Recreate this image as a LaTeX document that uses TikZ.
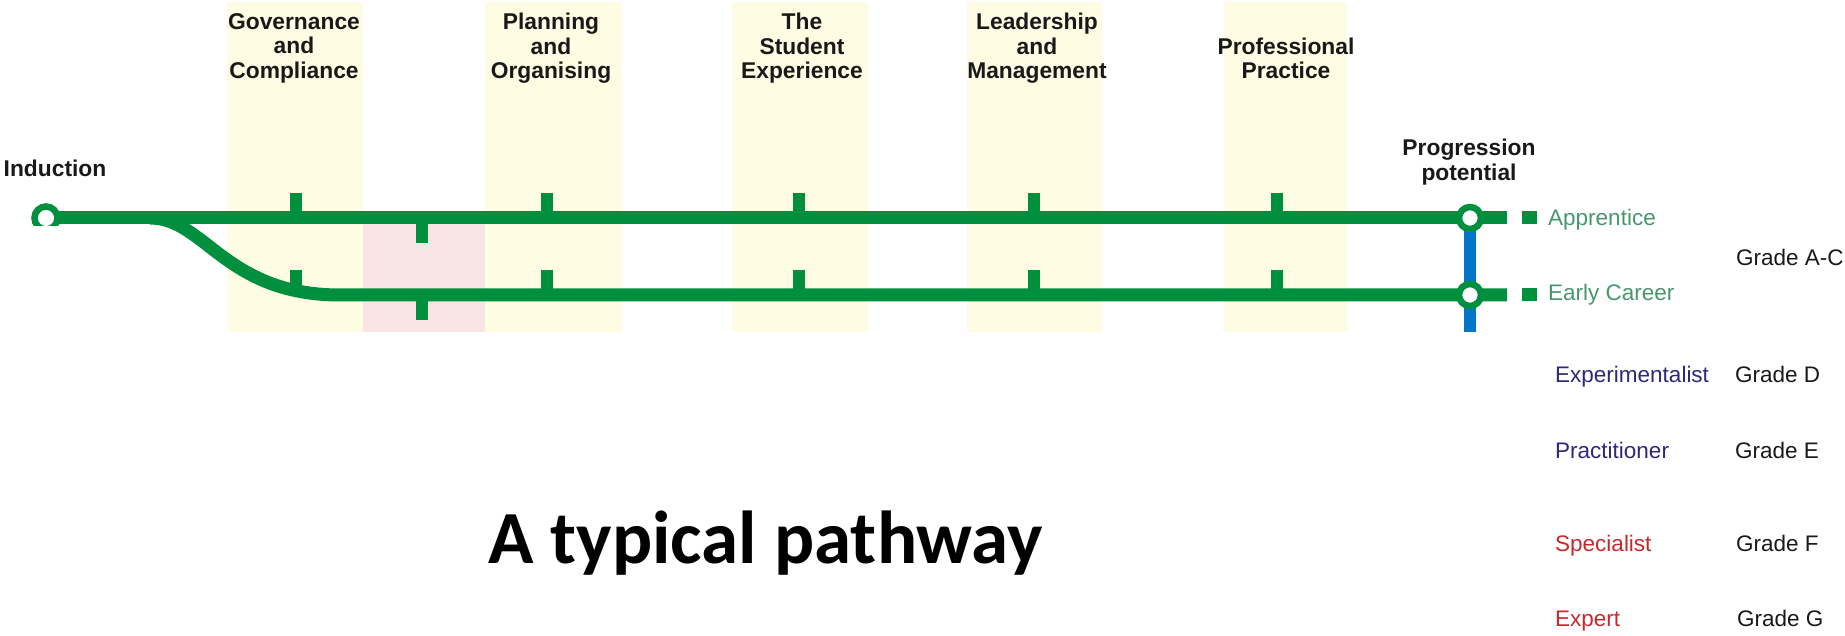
\documentclass[tikz,border=0pt]{standalone}
\usepackage{fontspec}
\setmainfont{Liberation Sans}
\newfontfamily\calibfont{Carlito}
\definecolor{lgreen}{RGB}{0,143,60}
\definecolor{colyellow}{RGB}{255,252,228}
\definecolor{colpink}{RGB}{249,228,228}
\definecolor{lblgreen}{RGB}{72,150,110}
\definecolor{pblue}{RGB}{0,118,200}
\definecolor{navytxt}{RGB}{45,40,120}
\definecolor{redtxt}{RGB}{200,40,45}
\definecolor{darktxt}{RGB}{25,25,25}
\tikzset{
  trackline/.style={draw=lgreen, line width=13pt},
  tickmark/.style={draw=lgreen, line width=12.5pt},
  blueline/.style={draw=pblue, line width=12pt},
  station/.style={circle, draw=lgreen, fill=white, line width=6.5pt, minimum size=22pt, inner sep=0pt},
  endsq/.style={rectangle, fill=lgreen, minimum width=15pt, minimum height=13pt, inner sep=0pt},
  hdr/.style={font=\fontsize{22.8}{24.5}\selectfont\bfseries, text=darktxt, align=center, anchor=north, inner sep=0pt},
  lab/.style={font=\fontsize{22.5}{27}\selectfont, anchor=base west, inner sep=0pt},
  colband/.style={fill=colyellow, draw=none},
}
\begin{document}
\begin{tikzpicture}[x=1pt,y=-1pt]
\useasboundingbox (0,0) rectangle (1845,636);
% columns
\fill[colband] (227,2) rectangle (363,332);
\fill[colpink] (363,218) rectangle (485,332);
\fill[colband] (485,2) rectangle (622,332);
\fill[colband] (732,2) rectangle (868,332);
\fill[colband] (967,2) rectangle (1102,332);
\fill[colband] (1224,2) rectangle (1347,332);
% coordinates
\coordinate (I) at (46,218);
\coordinate (P1) at (1470,218);
\coordinate (P2) at (1470,295);
\coordinate (E1) at (1507,218);
\coordinate (E2) at (1507,295);
\coordinate (BR) at (150,218);
\coordinate (BL) at (340,295);
\coordinate (BB) at (1470,332);
% tracks
\draw[trackline] (I) -- (P1) -- (E1);
\draw[trackline] (BR) .. controls (205,218) and (225,295) .. (BL) -- (P2) -- (E2);
\draw[blueline] (P1) -- (BB);
% ticks
\foreach \x in {296,547,799,1034,1277}{
  \draw[tickmark] (\x,193) -- (\x,218);
  \draw[tickmark] (\x,270) -- (\x,295);
}
\draw[tickmark] (422,218) -- (422,243);
\draw[tickmark] (422,295) -- (422,320);
% stations
\begin{scope}
\clip (20,190) rectangle (80,226);
\node[station, minimum size=23pt] (ind) at (I) {};
\end{scope}
\node[station] (p1) at (P1) {};
\node[station] (p2) at (P2) {};
\node[endsq] (s1) at (1529.5,218) {};
\node[endsq] (s2) at (1529.5,295) {};
% headers
\node[hdr] (h1) at (294,13) {Governance\\and\\Compliance};
\node[hdr] (h2) at (551,13) {Planning\\and\\Organising};
\node[hdr] (h3) at (802,13) {The\\Student\\Experience};
\node[hdr] (h4) at (1037,13) {Leadership\\and\\Management};
\node[hdr] (h5) at (1286,37.5) {Professional\\Practice};
\node[hdr] (hind) at (55,160) {Induction};
\node[hdr] (hprog) at (1469,139) {Progression\\potential};
% labels
\node[lab, text=lblgreen] (lapp) at (1548,226) {Apprentice};
\node[lab, text=lblgreen] (learly) at (1548,301) {Early Career};
\node[lab, text=darktxt] (gac) at (1736,266) {Grade A-C};
\node[lab, text=navytxt] (lexp) at (1555,382) {Experimentalist};
\node[lab, text=darktxt] (gd) at (1735,382) {Grade D};
\node[lab, text=navytxt] (lprac) at (1555,458) {Practitioner};
\node[lab, text=darktxt] (ge) at (1735,458) {Grade E};
\node[lab, text=redtxt] (lspec) at (1555,551) {Specialist};
\node[lab, text=darktxt] (gf) at (1736,551) {Grade F};
\node[lab, text=redtxt] (lexpert) at (1555,626) {Expert};
\node[lab, text=darktxt] (gg) at (1737,626) {Grade G};
% title
\node[font=\calibfont\fontsize{75}{80}\selectfont\bfseries, anchor=base west, inner sep=0pt] (title) at (488,563) {A typical pathway};
\end{tikzpicture}
\end{document}
